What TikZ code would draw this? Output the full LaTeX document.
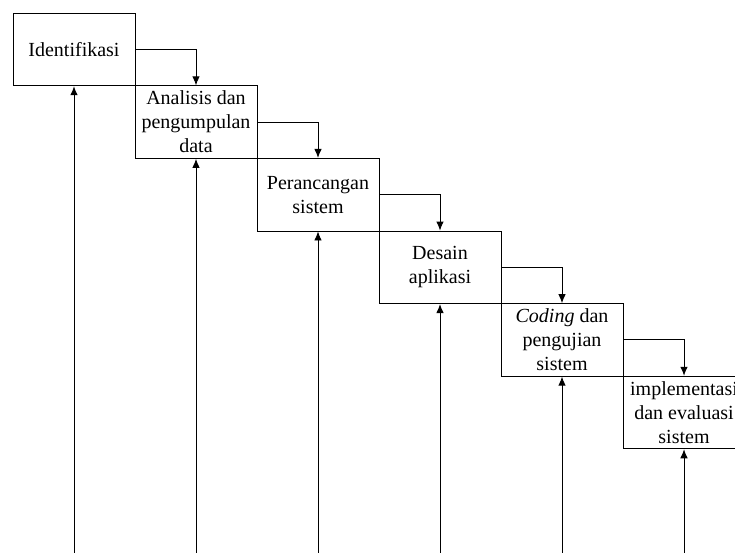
\documentclass[tikz,border=0pt]{standalone}
\usepackage{fontspec}
\setmainfont{Liberation Serif}
\usetikzlibrary{arrows.meta}
\tikzset{
  stagebox/.style={draw=black, line width=0.9pt, minimum width=122pt, minimum height=72.6pt, inner sep=0pt, align=center, font=\fontsize{20}{24}\selectfont},
  flow/.style={draw=black, line width=0.9pt, -{Latex[length=9pt,width=7.5pt]}}
}
\begin{document}
\begin{tikzpicture}[x=1pt,y=-1pt]
\useasboundingbox (0,0) rectangle (735,553);
\node[stagebox] (b1) at (74,49.5) {Identifikasi};
\node[stagebox] (b2) at (196,122.1) {Analisis dan\\pengumpulan\\data};
\node[stagebox] (b3) at (318,194.7) {Perancangan\\sistem};
\node[stagebox] (b4) at (440,267.3) {Desain\\aplikasi};
\node[stagebox] (b5) at (562,339.9) {\textit{Coding} dan\\pengujian\\sistem};
\node[stagebox] (b6) at (684,412.5) {implementasi\\dan evaluasi\\sistem};
\foreach \a/\b in {b1/b2,b2/b3,b3/b4,b4/b5,b5/b6}{
  \draw[flow] (\a.east) -| (\b.north);
}
\foreach \n/\x in {b1/74,b2/196,b3/318,b4/440,b5/562,b6/684}{
  \coordinate (f\n) at (\x,553);
  \draw[flow] (f\n) -- (\n.south);
}
\end{tikzpicture}
\end{document}
